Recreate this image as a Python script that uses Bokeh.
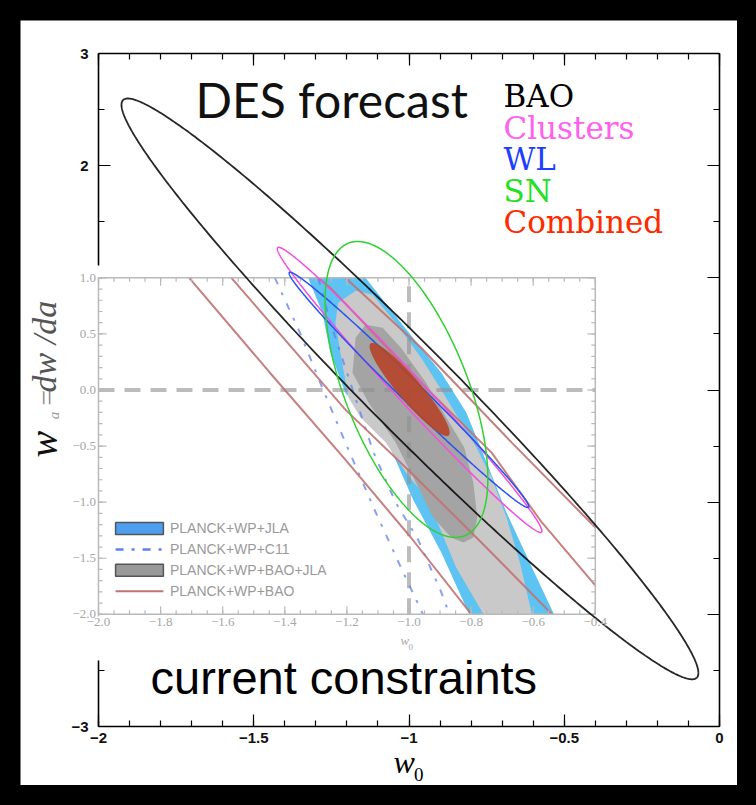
import numpy as np
from bokeh.plotting import figure
from bokeh.models import LinearAxis, FixedTicker, Label, LabelSet, ColumnDataSource
from bokeh.layouts import column
from bokeh.core.properties import value
from bokeh.embed import file_html
from bokeh.resources import INLINE

# ---------------------------------------------------------------------------
# DES forecast ellipses: centre, half-extent in w0 and wa, correlation
# ---------------------------------------------------------------------------
des_probe = ["BAO", "Clusters", "WL", "SN", "Combined"]
des_w0 = [-0.997, -0.998, -1.000, -1.008, -0.998]
des_wa = [0.010, 0.001, 0.001, 0.005, 0.005]
des_sig_w0 = [0.929, 0.426, 0.386, 0.262, 0.129]
des_sig_wa = [2.589, 1.271, 1.049, 1.319, 0.415]
des_rho = [-0.978, -0.990, -0.992, -0.60, -0.928]
des_line_color = ["#000000", "#f050e0", "#2a50f0", "#30d030", "#b4452c"]
des_text_color = ["#000000", "#ff60ee", "#1f3fff", "#22e022", "#ff2a00"]

# ---------------------------------------------------------------------------
# Current constraints (Planck + WP + ...), contour outlines in (w0, wa)
# ---------------------------------------------------------------------------
jla_w0 = [-1.325, -1.140, -1.026, -0.896, -0.815, -0.750, -0.686, -0.604, -0.533,
          -0.806, -0.896, -0.987, -1.068, -1.124, -1.205, -1.253, -1.279]
jla_wa = [1.0, 1.0, 0.599, 0.154, -0.202, -0.647, -1.092, -1.582, -2.0,
          -2.0, -1.448, -0.976, -0.469, -0.291, -0.024, 0.332, 0.688]

bao_jla_2s_w0 = [-1.228, -1.172, -1.117, -1.043, -0.961, -0.896, -0.832, -0.783, -0.734,
                 -0.686, -0.643, -0.604, -0.760, -0.848, -0.939, -1.010, -1.075, -1.156,
                 -1.195, -1.221, -1.237]
bao_jla_2s_wa = [0.777, 0.884, 0.849, 0.599, 0.288, 0.003, -0.291, -0.513, -0.780,
                 -1.137, -1.537, -2.0, -2.0, -1.582, -0.976, -0.736, -0.469, -0.246,
                 -0.068, 0.332, 0.599]

bao_jla_1s_w0 = [-1.172, -1.140, -1.085, -1.026, -0.945, -0.870, -0.822, -0.793, -0.780,
                 -0.793, -0.825, -0.864, -0.922, -0.978, -1.043, -1.130, -1.182]
bao_jla_1s_wa = [0.466, 0.582, 0.555, 0.377, 0.065, -0.291, -0.513, -0.825, -1.137,
                 -1.315, -1.359, -1.315, -1.137, -0.825, -0.469, -0.113, 0.154]

c11_a_w0 = [-1.432, -1.351, -1.286, -1.205, -1.107, -1.026, -0.955]
c11_a_wa = [1.0, 0.510, 0.065, -0.469, -1.092, -1.582, -2.0]
c11_b_w0 = [-1.292, -1.253, -1.189, -1.114, -1.043, -0.971, -0.896, -0.870]
c11_b_wa = [1.0, 0.599, 0.065, -0.558, -1.003, -1.332, -1.804, -2.0]

bao_l1_w0 = [-1.708, -1.448, -1.205, -0.994, -0.799]
bao_l1_wa = [1.0, 0.154, -0.620, -1.315, -2.0]
bao_l2_w0 = [-1.572, -1.383, -1.205, -0.994, -0.767, -0.539]
bao_l2_wa = [1.0, 0.395, -0.175, -0.736, -1.359, -2.0]
bao_r2_w0 = [-1.292, -1.253, -0.994, -0.734, -0.572, -0.400]
bao_r2_wa = [1.0, 0.911, 0.154, -0.558, -1.181, -1.742]
bao_r1_w0 = [-1.205, -0.961, -0.669, -0.400]
bao_r1_wa = [1.0, 0.377, -0.469, -1.226]

# Tick values and labels
outer_xticks = [-2.0, -1.5, -1.0, -0.5, 0.0]
outer_xlabels = ["−2", "−1.5", "−1", "−0.5", "0"]
inset_xticks = [-2.0, -1.8, -1.6, -1.4, -1.2, -1.0, -0.8, -0.6, -0.4]
inset_xlabels = ["−2.0", "−1.8", "−1.6", "−1.4", "−1.2", "−1.0", "−0.8", "−0.6", "−0.4"]
inset_yticks = [1.0, 0.5, 0.0, -0.5, -1.0, -1.5, -2.0]
inset_ylabels = ["1.0", "0.5", "0.0", "−0.5", "−1.0", "−1.5", "−2.0"]
inset_legend = ["PLANCK+WP+JLA", "PLANCK+WP+C11", "PLANCK+WP+BAO+JLA", "PLANCK+WP+BAO"]

# ---------------------------------------------------------------------------
# Canvas: the plotting frame fills the whole white panel; the w0/wa box of the
# DES plot sits inside it and its axes are pinned with fixed_location.
# ---------------------------------------------------------------------------
W, H = 717, 765
PAD_L, PAD_R, PAD_T, PAD_B = 78, 18, 33, 59      # panel edge to the w0/wa box
X0, X1, Y0, Y1 = -2.0, 0.0, -3.0, 3.0
PX_X = (W - PAD_L - PAD_R) / (X1 - X0)           # pixels per unit of w0
PX_Y = (H - PAD_T - PAD_B) / (Y1 - Y0)           # pixels per unit of wa

p = figure(width=W, height=H,
           x_range=(X0 - PAD_L / PX_X, X1 + PAD_R / PX_X),
           y_range=(Y0 - PAD_B / PX_Y, Y1 + PAD_T / PX_Y),
           x_axis_type=None, y_axis_type=None,
           output_backend="svg", toolbar_location=None,
           min_border=0, background_fill_color="white", border_fill_color="white",
           outline_line_color=None)
p.margin = (20, 19, 20, 20)


def frame_axis(ticks, minor, loc, bounds, labels=None):
    ax = LinearAxis(ticker=FixedTicker(ticks=ticks, minor_ticks=minor),
                    fixed_location=loc, bounds=bounds,
                    axis_line_width=1.6, axis_line_color="black",
                    major_tick_in=12, major_tick_out=0, minor_tick_in=6, minor_tick_out=0,
                    major_tick_line_color="black", minor_tick_line_color="black",
                    major_tick_line_width=1.2, minor_tick_line_width=1.2,
                    major_label_text_font="Liberation Sans",
                    major_label_text_font_style="bold",
                    major_label_text_font_size="15px",
                    major_label_text_color="#111111",
                    major_label_standoff=6)
    ax.major_label_overrides = dict(zip(ticks, labels if labels else [""] * len(ticks)))
    return ax


x_minor = [round(v, 2) for v in np.arange(-2.0, 0.001, 0.1)]
p.add_layout(frame_axis(outer_xticks, x_minor, Y0, (X0, X1), outer_xlabels), "below")
p.add_layout(frame_axis(outer_xticks, x_minor, Y1, (X0, X1)), "above")
# left edge: the inset panel hides its middle part
left_top = frame_axis([3.0, 2.0], [2.5, 1.5], X0, (1.11, Y1), ["3", "2"])
left_bot = frame_axis([-3.0], [-2.5], X0, (Y0, -2.41), ["−3"])
for ax in (left_top, left_bot):
    ax.major_label_standoff = 10
    p.add_layout(ax, "left")
p.add_layout(frame_axis([3.0, 2.0, 1.0, 0.0, -1.0, -2.0, -3.0],
                        [2.5, 1.5, 0.5, -0.5, -1.5, -2.5], X1, (Y0, Y1)), "right")

# ---------------------------------------------------------------------------
# Inset: current constraints
# ---------------------------------------------------------------------------
IX0, IX1, IY0, IY1 = -2.0, -0.4, -2.0, 1.0
JLA_BLUE = "#5cc3f2"
GRAY_2S = "#c9c9c9"
GRAY_1S = "#a4a4a4"
BAO_BROWN = "#c07272"
C11_BLUE = "#5f80ee"
INSET_GRAY = "#b9b9b9"
INSET_TEXT = "#a6a6a6"

p.patch(jla_w0, jla_wa, fill_color=JLA_BLUE, line_color=None)
p.patch(bao_jla_2s_w0, bao_jla_2s_wa, fill_color=GRAY_2S, line_color=None)
p.patch(bao_jla_1s_w0, bao_jla_1s_wa, fill_color=GRAY_1S, line_color=None)

p.line([IX0, IX1], [0, 0], line_color="#8f8f8f", line_alpha=0.6, line_width=4, line_dash="16 10")
p.line([-1, -1], [IY0, IY1], line_color="#8f8f8f", line_alpha=0.6, line_width=4, line_dash="16 10")

for xs, ys in [(c11_a_w0, c11_a_wa), (c11_b_w0, c11_b_wa)]:
    p.line(xs, ys, line_color=C11_BLUE, line_width=2, line_dash="7 9 3 9", line_alpha=0.75)
for xs, ys in [(bao_l1_w0, bao_l1_wa), (bao_l2_w0, bao_l2_wa),
               (bao_r2_w0, bao_r2_wa), (bao_r1_w0, bao_r1_wa)]:
    p.line(xs, ys, line_color=BAO_BROWN, line_width=2, line_alpha=0.9)

# inset frame and ticks
p.line([IX0, IX0, IX1, IX1, IX0], [IY0 - 0.02, IY1, IY1, IY0, IY0],
       line_color=INSET_GRAY, line_width=1.5)
tx_major, tx_minor = 8 / PX_Y, 4 / PX_Y
ty_major, ty_minor = 8 / PX_X, 4 / PX_X
ix_minor = [round(v, 3) for v in np.arange(IX0, IX1 + 0.001, 0.05)]
iy_minor = [round(v, 3) for v in np.arange(IY0, IY1 + 0.001, 0.1)]
for ticks, ln in [(ix_minor, tx_minor), (inset_xticks, tx_major)]:
    p.segment(x0=ticks, y0=[IY0] * len(ticks), x1=ticks, y1=[IY0 + ln] * len(ticks),
              line_color=INSET_GRAY, line_width=1.2)
    p.segment(x0=ticks, y0=[IY1] * len(ticks), x1=ticks, y1=[IY1 - ln] * len(ticks),
              line_color=INSET_GRAY, line_width=1.2)
for ticks, ln in [(iy_minor, ty_minor), (inset_yticks, ty_major)]:
    p.segment(x0=[IX0] * len(ticks), y0=ticks, x1=[IX0 + ln] * len(ticks), y1=ticks,
              line_color=INSET_GRAY, line_width=1.2)
    p.segment(x0=[IX1] * len(ticks), y0=ticks, x1=[IX1 - ln] * len(ticks), y1=ticks,
              line_color=INSET_GRAY, line_width=1.2)

inset_x_src = ColumnDataSource(dict(x=inset_xticks, y=[IY0 - 0.035] * len(inset_xticks),
                                    t=inset_xlabels))
p.add_layout(LabelSet(source=inset_x_src, x="x", y="y", text="t",
                      text_font=value("Liberation Serif"), text_font_size=value("13px"),
                      text_color=value(INSET_TEXT), text_align=value("center"),
                      text_baseline=value("top")))
inset_y_src = ColumnDataSource(dict(x=[IX0 - 0.008] * len(inset_yticks), y=inset_yticks,
                                    t=inset_ylabels))
p.add_layout(LabelSet(source=inset_y_src, x="x", y="y", text="t",
                      text_font=value("Liberation Serif"), text_font_size=value("13px"),
                      text_color=value(INSET_TEXT), text_align=value("right"),
                      text_baseline=value("middle")))
p.add_layout(Label(x=-1.027, y=-2.30, text="w", text_font="Liberation Serif",
                   text_font_style="italic", text_font_size="13px", text_color=INSET_TEXT))
p.add_layout(Label(x=-1.002, y=-2.315, text="0", text_font="Liberation Serif",
                   text_font_size="9px", text_color=INSET_TEXT))

# inset legend
row_y = [-1.234, -1.421, -1.608, -1.795]
sw_l, sw_r, sw_h = -1.945, -1.791, 6 / PX_Y
p.quad(left=sw_l, right=sw_r, bottom=row_y[0] - sw_h, top=row_y[0] + sw_h,
       fill_color="#4f9ff0", line_color="#555555", line_width=1.5)
p.line([sw_l, sw_r], [row_y[1], row_y[1]], line_color=C11_BLUE, line_width=2.5,
       line_dash="8 8 3 8")
p.quad(left=sw_l, right=sw_r, bottom=row_y[2] - sw_h, top=row_y[2] + sw_h,
       fill_color="#999999", line_color="#555555", line_width=1.5)
p.line([sw_l, sw_r], [row_y[3], row_y[3]], line_color=BAO_BROWN, line_width=2)
p.text(x=[-1.770] * 4, y=row_y, text=inset_legend, text_font=value("Liberation Sans"),
       text_font_size="14px", text_color="#9a9a9a", text_baseline="middle")


# ---------------------------------------------------------------------------
# DES forecast ellipses on top
# ---------------------------------------------------------------------------
def ellipse_outline(cx, cy, sig_x, sig_y, rho, n=480):
    t = np.linspace(0.0, 2.0 * np.pi, n)
    xs = cx + sig_x * np.cos(t)
    ys = cy + sig_y * (rho * np.cos(t) + np.sqrt(1.0 - rho ** 2) * np.sin(t))
    return xs, ys


for i, name in enumerate(des_probe):
    xs, ys = ellipse_outline(des_w0[i], des_wa[i], des_sig_w0[i], des_sig_wa[i], des_rho[i])
    if name == "Combined":
        p.patch(xs, ys, fill_color=des_line_color[i], fill_alpha=0.92, line_color=None)
    elif name == "BAO":
        p.line(xs, ys, line_color=des_line_color[i], line_width=1.8, line_alpha=0.85)
    else:
        p.line(xs, ys, line_color=des_line_color[i], line_width=1.5)

# probe names in their colours
leg_top, leg_step = 2.618, 31.5 / PX_Y
p.text(x=[-0.6957] * len(des_probe), y=[leg_top - k * leg_step for k in range(len(des_probe))],
       text=des_probe, text_color=des_text_color, text_font=value("DejaVu Serif"),
       text_font_size="31px", text_baseline="alphabetic")

p.add_layout(Label(x=-1.6876, y=2.338, text="DES forecast", text_font="Lato",
                   text_font_size="48px", text_color="#111111"))
p.add_layout(Label(x=-1.8325, y=-2.802, text="current constraints",
                   text_font="Liberation Sans", text_font_size="47px", text_color="#000000"))

# axis titles (em-box bottom as anchor)
p.add_layout(Label(x=-1.050, y=-3.48, text="w", text_font="Liberation Serif",
                   text_font_style="italic", text_font_size="32px", text_color="#000000"))
p.add_layout(Label(x=-0.984, y=-3.49, text="0", text_font="Liberation Serif",
                   text_font_size="19px", text_color="#000000"))
p.add_layout(Label(x=-2.104, y=-0.602, text="w", angle=np.pi / 2,
                   text_font="Liberation Serif", text_font_style="italic",
                   text_font_size="40px", text_color="#111111"))
p.add_layout(Label(x=-2.116, y=-0.26, text="a", angle=np.pi / 2,
                   text_font="Liberation Serif", text_font_style="italic",
                   text_font_size="15px", text_color="#999999"))
p.add_layout(Label(x=-2.116, y=-0.14, text="=", angle=np.pi / 2,
                   text_font="Liberation Serif", text_font_size="28px", text_color="#888888"))
p.add_layout(Label(x=-2.114, y=-0.022, text="dw /da", angle=np.pi / 2,
                   text_font="Liberation Serif", text_font_style="italic",
                   text_font_size="34px", text_color="#555555"))

page = column(p, width=756, height=805, styles={"background-color": "black"})
open("out.html", "w").write(file_html(page, INLINE))
